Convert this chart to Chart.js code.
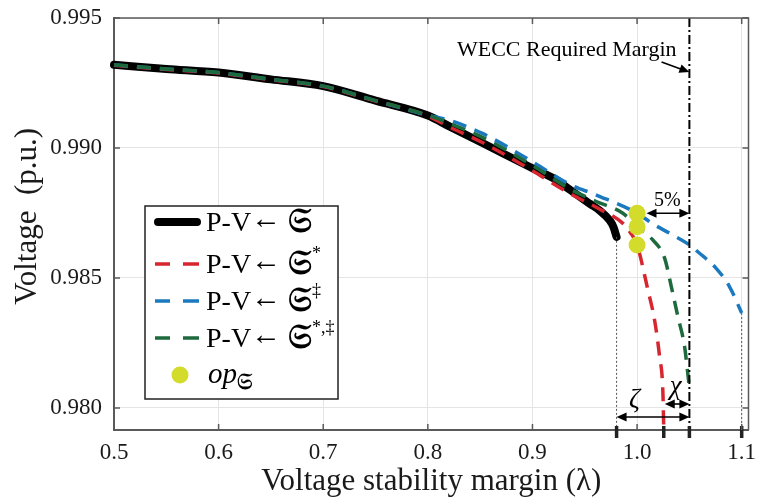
<!DOCTYPE html>
<html lang="en">
<head>
<meta charset="UTF-8">
<title>P-V curves and voltage stability margin</title>
<script src="https://cdn.jsdelivr.net/npm/chart.js"></script>
<style>
    body { margin: 0; background: #fff; }
    #wrap { width: 757px; height: 500px; }
</style>
</head>
<body>
<div id="wrap"><canvas id="pvChart" width="757" height="500"></canvas></div>
<script>
// ---- data ----
const xTicks = [0.5, 0.6, 0.7, 0.8, 0.9, 1.0, 1.1];
const yTicks = [0.980, 0.985, 0.990, 0.995];

const baseLambda = [0.5, 0.55, 0.6, 0.65, 0.7, 0.75, 0.8, 0.821, 0.8527, 0.9, 0.9228, 0.9355, 0.955, 0.964, 0.9737, 0.9775, 0.9804];
const baseVolt   = [0.99320, 0.99304, 0.99290, 0.99264, 0.99238, 0.99182, 0.99125, 0.99082, 0.99018, 0.98922, 0.98877, 0.98840, 0.98785, 0.98760, 0.98722, 0.98695, 0.98658];

const redLambda = [0.5, 0.55, 0.6, 0.65, 0.7, 0.75, 0.8, 0.821, 0.8527, 0.9, 0.9355, 0.964, 0.9864, 0.9935, 1.0, 1.0103, 1.0167, 1.0215, 1.0247, 1.0255];
const redVolt   = [0.99318, 0.99302, 0.99288, 0.99262, 0.99236, 0.99180, 0.99123, 0.99080, 0.99020, 0.98912, 0.98825, 0.98765, 0.98710, 0.98675, 0.98627, 0.98454, 0.98338, 0.98197, 0.98056, 0.97915];

const blueLambda = [0.5, 0.55, 0.6, 0.65, 0.7, 0.75, 0.8, 0.821, 0.8527, 0.9, 0.9355, 0.961, 1.0, 1.015, 1.031, 1.0501, 1.0597, 1.0756, 1.0883, 1.1];
const blueVolt   = [0.99320, 0.99304, 0.99290, 0.99264, 0.99238, 0.99182, 0.99126, 0.99106, 0.99055, 0.98947, 0.98860, 0.98819, 0.98749, 0.98708, 0.98672, 0.98627, 0.98595, 0.98537, 0.98467, 0.98365];

const greenLambda = [0.5, 0.55, 0.6, 0.65, 0.7, 0.75, 0.8, 0.821, 0.8527, 0.9, 0.9355, 0.961, 0.9864, 1.0, 1.015, 1.0263, 1.0327, 1.039, 1.0454, 1.0495];
const greenVolt   = [0.99320, 0.99304, 0.99290, 0.99264, 0.99238, 0.99182, 0.99126, 0.99094, 0.99040, 0.98933, 0.98843, 0.98794, 0.98749, 0.98697, 0.98646, 0.98576, 0.98467, 0.98351, 0.98236, 0.98095];

const opLambda = [1.0, 1.0, 1.0];
const opVolt   = [0.98749, 0.98697, 0.98627];

// annotation anchors (data units)
const weccMargin = 1.05;
const zetaStart = 0.9804;   // nose of base curve
const chiStart = 1.0255;    // nose of red curve
const blueNose = 1.1;
const noseMarks = [0.9804, 1.0255, 1.05, 1.1];

const colBlack = '#000000';
const colRed = '#d7262f';
const colBlue = '#1b79c0';
const colGreen = '#1d6a3d';
const colOp = '#d3dc2b';
const serif = '"Liberation Serif", "DejaVu Serif", serif';

const pts = (xs, ys) => xs.map((x, i) => ({ x: x, y: ys[i] }));

function arrowHead(ctx, x, y, dir) {
    const len = 10, half = 4.5;
    ctx.beginPath();
    ctx.moveTo(x, y);
    ctx.lineTo(x - len * Math.cos(dir) + half * Math.sin(dir), y - len * Math.sin(dir) - half * Math.cos(dir));
    ctx.lineTo(x - len * Math.cos(dir) - half * Math.sin(dir), y - len * Math.sin(dir) + half * Math.cos(dir));
    ctx.closePath();
    ctx.fill();
}

function doubleArrow(ctx, x1, x2, y) {
    ctx.beginPath();
    ctx.moveTo(x1 + 4, y);
    ctx.lineTo(x2 - 4, y);
    ctx.stroke();
    arrowHead(ctx, x1, y, Math.PI);
    arrowHead(ctx, x2, y, 0);
}

// rich text pieces: [text, font, dy]
function drawParts(ctx, parts, x, y) {
    parts.forEach(p => {
        ctx.font = p[1];
        ctx.fillText(p[0], x, y + (p[2] || 0));
        x += ctx.measureText(p[0]).width;
    });
}

const legendLabels = ['P-V', 'P-V', 'P-V', 'P-V'];
const legendSupers = ['', '*', '\u2021', '*,\u2021'];

const annotations = {
    id: 'annotations',
    afterDatasetsDraw(chart) {
        const { ctx, chartArea: a, scales: { x, y } } = chart;
        ctx.save();

        // dotted drop lines from the noses
        ctx.strokeStyle = '#555';
        ctx.lineWidth = 1;
        ctx.setLineDash([2, 2]);
        [[zetaStart, baseVolt[baseVolt.length - 1]], [blueNose, blueVolt[blueVolt.length - 1]]].forEach(p => {
            ctx.beginPath();
            ctx.moveTo(x.getPixelForValue(p[0]), y.getPixelForValue(p[1]));
            ctx.lineTo(x.getPixelForValue(p[0]), a.bottom);
            ctx.stroke();
        });

        // WECC dash-dot line
        ctx.strokeStyle = '#000';
        ctx.lineWidth = 2;
        ctx.setLineDash([9, 3, 2, 3]);
        const xw = x.getPixelForValue(weccMargin);
        ctx.beginPath();
        ctx.moveTo(xw, a.top);
        ctx.lineTo(xw, a.bottom);
        ctx.stroke();
        ctx.setLineDash([]);

        // thick marks under the axis at the noses
        ctx.strokeStyle = '#222';
        ctx.lineWidth = 3.5;
        noseMarks.forEach(v => {
            const px = x.getPixelForValue(v);
            ctx.beginPath();
            ctx.moveTo(px, a.bottom - 4);
            ctx.lineTo(px, a.bottom + 8);
            ctx.stroke();
        });

        // arrows
        ctx.fillStyle = '#000';
        ctx.strokeStyle = '#000';
        ctx.lineWidth = 1.6;
        doubleArrow(ctx, x.getPixelForValue(1.009), xw, y.getPixelForValue(opVolt[0]));
        doubleArrow(ctx, x.getPixelForValue(zetaStart), xw, y.getPixelForValue(0.97965));
        doubleArrow(ctx, x.getPixelForValue(chiStart) + 1, xw, y.getPixelForValue(0.98015));

        const ax1 = x.getPixelForValue(1.0234), ay1 = y.getPixelForValue(0.99331);
        const ay2 = y.getPixelForValue(0.99292);
        ctx.beginPath();
        ctx.moveTo(ax1, ay1);
        ctx.lineTo(xw - 6, ay2 - 2);
        ctx.stroke();
        arrowHead(ctx, xw, ay2, Math.atan2(ay2 - ay1, xw - ax1));

        // texts
        ctx.textBaseline = 'alphabetic';
        ctx.textAlign = 'right';
        ctx.font = '22px ' + serif;
        ctx.fillText('WECC Required Margin', x.getPixelForValue(1.0377), y.getPixelForValue(0.99354));
        ctx.textAlign = 'center';
        ctx.textBaseline = 'middle';
        ctx.font = '20px ' + serif;
        ctx.fillText('5%', x.getPixelForValue(1.029), y.getPixelForValue(0.98796));
        ctx.font = 'italic 27px ' + serif;
        ctx.fillText('\u03b6', x.getPixelForValue(0.9976), y.getPixelForValue(0.98031));
        ctx.fillText('\u03c7', x.getPixelForValue(1.0368), y.getPixelForValue(0.98081));

        ctx.restore();
    },
    afterDraw(chart) {
        const { ctx, chartArea: a, scales: { x, y } } = chart;
        ctx.save();

        // box and inward ticks
        ctx.strokeStyle = '#5a5a5a';
        ctx.lineWidth = 1.5;
        ctx.beginPath();
        ctx.moveTo(a.left, a.top);
        ctx.lineTo(a.right, a.top);
        ctx.lineTo(a.right, a.bottom);
        ctx.stroke();
        xTicks.forEach(v => {
            const px = x.getPixelForValue(v);
            ctx.beginPath();
            ctx.moveTo(px, a.bottom); ctx.lineTo(px, a.bottom - 6);
            ctx.moveTo(px, a.top); ctx.lineTo(px, a.top + 6);
            ctx.stroke();
        });
        yTicks.forEach(v => {
            const py = y.getPixelForValue(v);
            ctx.beginPath();
            ctx.moveTo(a.left, py); ctx.lineTo(a.left + 6, py);
            ctx.moveTo(a.right, py); ctx.lineTo(a.right - 6, py);
            ctx.stroke();
        });

        // legend
        const lx = 145, ly = 206, lw = 193, lh = 193;
        ctx.fillStyle = '#fff';
        ctx.fillRect(lx, ly, lw, lh);
        ctx.strokeStyle = '#222';
        ctx.lineWidth = 1.5;
        ctx.strokeRect(lx, ly, lw, lh);

        const rows = [222, 264, 301, 338, 375];
        const lineCols = [colBlack, colRed, colBlue, colGreen];
        ctx.textBaseline = 'middle';
        ctx.textAlign = 'left';
        lineCols.forEach((c, i) => {
            ctx.strokeStyle = c;
            if (i === 0) {
                ctx.lineWidth = 8;
                ctx.lineCap = 'round';
                ctx.beginPath();
                ctx.moveTo(158, rows[i]); ctx.lineTo(197, rows[i]);
                ctx.stroke();
            } else {
                ctx.lineWidth = 3.5;
                ctx.lineCap = 'butt';
                ctx.beginPath();
                ctx.moveTo(155, rows[i]); ctx.lineTo(170, rows[i]);
                ctx.moveTo(183, rows[i]); ctx.lineTo(199, rows[i]);
                ctx.stroke();
            }
            ctx.fillStyle = '#000';
            drawParts(ctx, [
                [legendLabels[i], '28px ' + serif, 2],
                ['\u2190', '30px ' + serif, -2],
                ['\u2009\ud835\udd16', 'bold 34px ' + serif, 1],
                [legendSupers[i], '18px ' + serif, -10]
            ], 206, rows[i]);
        });
        ctx.fillStyle = colOp;
        ctx.beginPath();
        ctx.arc(180, rows[4], 8.5, 0, Math.PI * 2);
        ctx.fill();
        ctx.fillStyle = '#000';
        drawParts(ctx, [
            ['op', 'italic 29px ' + serif, 0],
            ['\ud835\udd16', 'bold 22px ' + serif, 8]
        ], 208, rows[4]);

        ctx.restore();
    }
};

new Chart(document.getElementById('pvChart'), {
    type: 'line',
    data: {
        datasets: [
            { label: 'P-V base', data: pts(baseLambda, baseVolt), borderColor: colBlack, borderWidth: 8,
              borderCapStyle: 'round', borderJoinStyle: 'round', order: 5 },
            { label: 'P-V *', data: pts(redLambda, redVolt), borderColor: colRed, borderWidth: 3.5,
              borderDash: [14, 9], order: 4 },
            { label: 'P-V ‡', data: pts(blueLambda, blueVolt), borderColor: colBlue, borderWidth: 3.5,
              borderDash: [14, 9], order: 3 },
            { label: 'P-V *,‡', data: pts(greenLambda, greenVolt), borderColor: colGreen, borderWidth: 3.5,
              borderDash: [14, 9], order: 2 },
            { label: 'op', data: pts(opLambda, opVolt), showLine: false, pointRadius: 8.5,
              pointBackgroundColor: colOp, pointBorderWidth: 0, order: 1 }
        ]
    },
    options: {
        responsive: false,
        animation: false,
        clip: 8,
        layout: { padding: { top: 18, right: 8, left: 0, bottom: 0 } },
        elements: {
            point: { radius: 0 },
            line: { cubicInterpolationMode: 'monotone', fill: false }
        },
        plugins: { legend: { display: false }, tooltip: { enabled: false } },
        scales: {
            x: {
                type: 'linear',
                min: 0.5,
                max: 1.1065,
                afterBuildTicks: s => { s.ticks = xTicks.map(v => ({ value: v })); },
                afterFit: s => { s.height = 70; s.paddingLeft = 0; s.paddingRight = 0; },
                grid: { color: '#e4e4e4', lineWidth: 1, drawTicks: false },
                border: { color: '#5a5a5a', width: 2 },
                ticks: {
                    padding: 9,
                    color: '#1a1a1a',
                    font: { family: serif, size: 23 },
                    callback: v => v.toFixed(1)
                },
                title: {
                    display: true,
                    text: 'Voltage stability margin (\u03bb)',
                    color: '#1a1a1a',
                    font: { family: serif, size: 31 },
                    padding: { top: 0, bottom: 0 }
                }
            },
            y: {
                min: 0.97915,
                max: 0.995,
                afterBuildTicks: s => { s.ticks = yTicks.map(v => ({ value: v })); },
                afterFit: s => { s.width = 114; s.paddingTop = 0; s.paddingBottom = 0; },
                grid: { color: '#e4e4e4', lineWidth: 1, drawTicks: false },
                border: { color: '#5a5a5a', width: 2 },
                ticks: {
                    padding: 12,
                    color: '#1a1a1a',
                    font: { family: serif, size: 23 },
                    callback: v => v.toFixed(3)
                },
                title: {
                    display: true,
                    text: '\u2002Voltage  (p.u.)',
                    color: '#1a1a1a',
                    font: { family: serif, size: 31 },
                    padding: { top: 9, bottom: 0 }
                }
            }
        }
    },
    plugins: [annotations]
});
</script>
</body>
</html>
